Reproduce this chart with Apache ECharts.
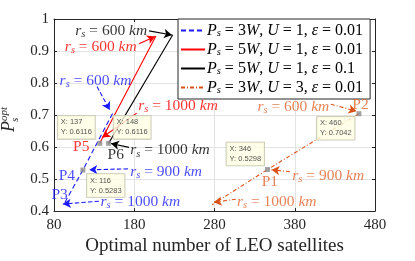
<!DOCTYPE html>
<html><head><meta charset="utf-8">
<script src="https://cdn.jsdelivr.net/npm/echarts@6/dist/echarts.min.js"></script>
<style>html,body{margin:0;padding:0;background:#fff}#c{width:415px;height:261px}</style>
</head><body><div id="c"></div>
<script>
// ---- data ----
const xTicks = [80, 180, 280, 380, 480];
const yTicks = [0.4, 0.5, 0.6, 0.7, 0.8, 0.9, 1];
const seriesNames = ['P3W_U1_e001', 'P5W_U1_e001', 'P5W_U1_e01', 'P3W_U3_e001'];
const blueX = [153, 116, 92];      const blueY = [0.705, 0.5283, 0.42];
const redX = [207, 137];           const redY = [0.947, 0.6116];
const blackX = [228, 148];         const blackY = [0.951, 0.6116];
const orangeX = [460, 346, 277];   const orangeY = [0.7042, 0.5298, 0.42];
const tipX = [346, 460, 116, 137, 148];
const tipY = [0.5298, 0.7042, 0.5283, 0.6116, 0.6116];
const rsValues = [600, 900, 1000];

// ---- styling / layout ----
const BLUE = '#1a1aff', RED = '#ff0000', BLACK = '#000000', ORANGE = '#d95319', ORANGE_T = '#e0652e';
const SERIF = '"Liberation Serif","DejaVu Serif",serif';
// datatip box: [left edge offset from marker, vertical centre offset]
const tipOffsets = [[-41, -15.5], [-42, 14.5], [4, 15.5], [-42, -16], [5, -16]];

const rsText = v => '{i|r}{sub|s}{n| = ' + v + ' }{i|km}';
// text annotations: [text, x, y, color, align]
const texts = [
  [rsText(rsValues[0]), 196, 0.962, BLACK, 'right'],
  [rsText(rsValues[0]), 183, 0.914, RED, 'right'],
  [rsText(rsValues[0]), 87, 0.806, BLUE, 'left'],
  [rsText(rsValues[2]), 185, 0.728, RED, 'left'],
  [rsText(rsValues[2]), 175, 0.590, BLACK, 'left'],
  [rsText(rsValues[1]), 175, 0.523, BLUE, 'left'],
  [rsText(rsValues[2]), 138, 0.430, BLUE, 'left'],
  [rsText(rsValues[0]), 423, 0.725, ORANGE_T, 'right'],
  [rsText(rsValues[1]), 377, 0.510, ORANGE_T, 'left'],
  [rsText(rsValues[2]), 308, 0.428, ORANGE_T, 'left'],
  ['{n|P1}', 349, 0.492, ORANGE_T, 'center'],
  ['{n|P2}', 462, 0.731, ORANGE_T, 'center'],
  ['{n|P3}', 87, 0.449, BLUE, 'center'],
  ['{n|P4}', 96, 0.511, BLUE, 'center'],
  ['{n|P5}', 114, 0.599, RED, 'center'],
  ['{n|P6}', 157, 0.576, BLACK, 'center']
];
// arrows: [x1,y1,x2,y2,color,dash]
const arrows = [
  [198.5, 0.963, 227, 0.950, BLACK, 'solid'],
  [186, 0.923, 206, 0.945, RED, 'solid'],
  [133.6, 0.789, 149.5, 0.716, BLUE, 'dashed'],
  [183, 0.706, 140, 0.630, RED, 'solid'],
  [173.5, 0.599, 151, 0.611, BLACK, 'solid'],
  [172, 0.532, 124, 0.529, BLUE, 'dashed'],
  [136, 0.431, 91, 0.422, BLUE, 'dashed'],
  [425, 0.734, 457, 0.712, ORANGE, [4, 2, 1, 2]],
  [374, 0.523, 351, 0.529, ORANGE, [4, 2, 1, 2]],
  [306.5, 0.437, 279, 0.428, ORANGE, [4, 2, 1, 2]]
];

const zip = (a, b) => a.map((v, i) => [v, b[i]]);
const richBase = (color) => ({
  i: {fontFamily: SERIF, fontStyle: 'italic', fontSize: 15.5, color},
  n: {fontFamily: SERIF, fontSize: 15.5, color},
  sub: {fontFamily: SERIF, fontStyle: 'italic', fontSize: 10.5, color, padding: [7, 0, 0, 0]}
});
const legendRich = {
  i: {fontFamily: SERIF, fontStyle: 'italic', fontSize: 16, color: '#000', lineHeight: 15},
  n: {fontFamily: SERIF, fontSize: 16, color: '#000', lineHeight: 15},
  sub: {fontFamily: SERIF, fontStyle: 'italic', fontSize: 10.5, color: '#000', padding: [6, 0, 0, 0], lineHeight: 15}
};
const legendLabels = {
  P3W_U1_e001: '{i|P}{sub|s}{n| = 3}{i|W}{n|, }{i|U}{n| = 1, }{i|ε}{n| = 0.01}',
  P5W_U1_e001: '{i|P}{sub|s}{n| = 5}{i|W}{n|, }{i|U}{n| = 1, }{i|ε}{n| = 0.01}',
  P5W_U1_e01:  '{i|P}{sub|s}{n| = 5}{i|W}{n|, }{i|U}{n| = 1, }{i|ε}{n| = 0.1}',
  P3W_U3_e001: '{i|P}{sub|s}{n| = 3}{i|W}{n|, }{i|U}{n| = 3, }{i|ε}{n| = 0.01}'
};

const axisCommon = {
  axisLine: {show: true, onZero: false, lineStyle: {color: '#262626', width: 1}},
  axisTick: {show: true, inside: true, length: 3, lineStyle: {color: '#262626'}},
  splitLine: {show: true, lineStyle: {color: '#e3e3e3', width: 1}},
};
const lineSeries = (name, xs, ys, color, type) => ({
  name, type: 'line', data: zip(xs, ys), symbol: 'none', z: 3,
  lineStyle: {color, width: 1.1, type}, itemStyle: {color}
});

const chart = echarts.init(document.getElementById('c'), null, {renderer: 'canvas'});
chart.setOption({
  animation: false,
  grid: {left: 54, right: 40, top: 19, bottom: 46},
  xAxis: [
    Object.assign({type: 'value', min: 80, max: 480, interval: 100,
      name: 'Optimal number of LEO satellites', nameLocation: 'middle', nameGap: 24,
      nameTextStyle: {fontFamily: SERIF, fontSize: 19, color: '#262626'},
      axisLabel: {fontFamily: SERIF, fontSize: 15, color: '#262626', margin: 6,
        formatter: v => xTicks.includes(v) ? String(v) : ''}}, axisCommon),
    Object.assign({type: 'value', min: 80, max: 480, interval: 100, position: 'top',
      axisLabel: {show: false}}, axisCommon, {splitLine: {show: false}})
  ],
  yAxis: [
    Object.assign({type: 'value', min: 0.4, max: 1, interval: 0.1,
      axisLabel: {fontFamily: SERIF, fontSize: 15, color: '#262626', margin: 5,
        formatter: v => { const t = yTicks.find(k => Math.abs(k - v) < 1e-6); return t === undefined ? '' : String(t); }}}, axisCommon),
    Object.assign({type: 'value', min: 0.4, max: 1, interval: 0.1, position: 'right',
      axisLabel: {show: false}}, axisCommon, {splitLine: {show: false}})
  ],
  graphic: [{
    type: 'group', x: 18, y: 132, rotation: Math.PI / 2,
    children: [
      {type: 'text', x: 0, y: 0, style: {text: 'P', font: 'italic 18px ' + SERIF, fill: '#262626', align: 'left', verticalAlign: 'bottom'}},
      {type: 'text', x: 11, y: -8, style: {text: 'opt', font: 'italic 11px ' + SERIF, fill: '#262626', align: 'left', verticalAlign: 'bottom'}},
      {type: 'text', x: 10, y: 3, style: {text: 's', font: 'italic 11px ' + SERIF, fill: '#262626', align: 'left', verticalAlign: 'bottom'}}
    ]
  }],
  legend: {
    orient: 'vertical', left: 178, top: 19,
    padding: [3, 7, 3, 2], itemGap: 2, itemWidth: 24, itemHeight: 15,
    backgroundColor: '#fff', borderColor: '#262626', borderWidth: 1,
    itemStyle: {opacity: 0},
    data: seriesNames, formatter: n => legendLabels[n],
    textStyle: {rich: legendRich, padding: [0, 0, 0, -3]}
  },
  series: [
    lineSeries(seriesNames[0], blueX, blueY, BLUE, [5, 3]),
    lineSeries(seriesNames[1], redX, redY, RED, 'solid'),
    lineSeries(seriesNames[2], blackX, blackY, BLACK, 'solid'),
    lineSeries(seriesNames[3], orangeX, orangeY, ORANGE, [4, 2, 1, 2]),
    {
      type: 'scatter', z: 6, symbol: 'rect', symbolSize: 5,
      itemStyle: {color: '#8c8c8c'},
      data: zip(tipX, tipY).map((v, i) => ({value: v, label: {offset: tipOffsets[i]}})),
      label: {
        show: true, position: 'inside',
        formatter: p => 'X: ' + p.value[0] + '\nY: ' + p.value[1].toFixed(4),
        fontFamily: '"Liberation Sans",Arial,sans-serif', fontSize: 7.5, lineHeight: 10,
        color: '#262626', backgroundColor: '#ffffe3', borderColor: '#b8b8a0', borderWidth: 0.8,
        padding: [2, 3, 1, 3], align: 'left', verticalAlign: 'middle'
      }
    },
    {
      type: 'scatter', z: 5, symbolSize: 0, silent: true,
      data: texts.map(t => ({value: [t[1], t[2]], label: {formatter: t[0], align: t[4], rich: richBase(t[3])}})),
      label: {show: true, position: 'inside', verticalAlign: 'middle'},
      markLine: {
        silent: true, animation: false, symbol: ['none', 'arrow'], symbolSize: [7, 8], precision: 4,
        label: {show: false},
        data: arrows.map(a => [
          {coord: [a[0], a[1]], lineStyle: {color: a[4], type: a[5], width: 1.1}, itemStyle: {color: a[4]}},
          {coord: [a[2], a[3]]}
        ])
      }
    }
  ]
});
</script></body></html>
